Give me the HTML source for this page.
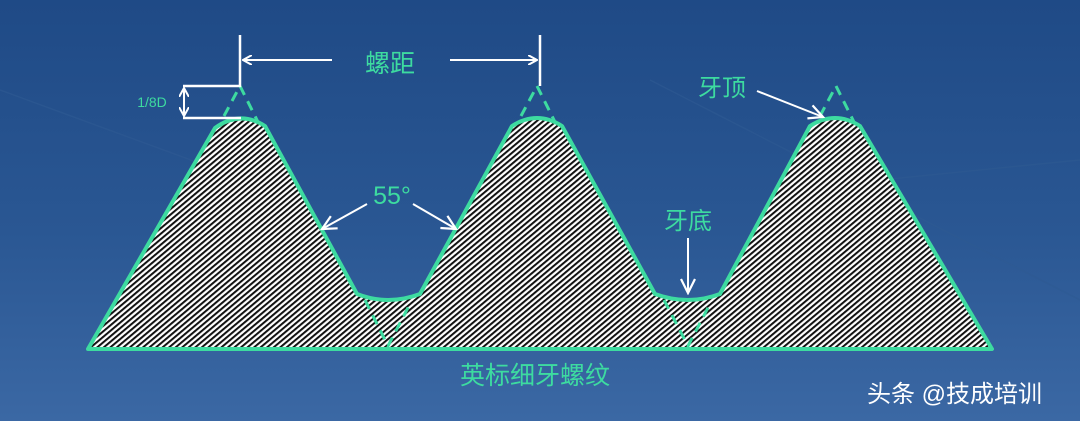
<!DOCTYPE html>
<html><head><meta charset="utf-8"><style>
html,body{margin:0;padding:0;}
body{width:1080px;height:421px;overflow:hidden;background:linear-gradient(180deg,#1f4a86 0%,#2a5793 55%,#3b68a4 100%);}
svg{display:block}
text{font-family:"Liberation Sans","Noto Sans CJK SC",sans-serif;}
</style></head><body>
<svg width="1080" height="421" viewBox="0 0 1080 421" xmlns="http://www.w3.org/2000/svg">
<defs>
<pattern id="h" width="4.2" height="8" patternUnits="userSpaceOnUse" patternTransform="rotate(50)">
<rect width="4.2" height="8" fill="#fff"/>
<rect x="0" y="0" width="2" height="8" fill="#111"/>
</pattern>
<marker id="a" markerWidth="10" markerHeight="10" refX="9" refY="5" orient="auto" markerUnits="userSpaceOnUse">
<path d="M0,0 L9,5 L0,10" fill="none" stroke="#fff" stroke-width="2"/>
</marker>
<marker id="b" markerWidth="18" markerHeight="16" refX="16" refY="8" orient="auto" markerUnits="userSpaceOnUse">
<path d="M2,1 L16,8 L2,15" fill="none" stroke="#fff" stroke-width="2.2"/>
</marker>
</defs>
<g stroke="#2e5a92" stroke-width="1.5" fill="none" opacity="0.6">
<path d="M0,90 L300,200"/><path d="M650,80 L1080,300"/><path d="M880,180 L1080,160"/>
</g>
<path d="M88,349 L215,128 Q240,110 265,126 L357,294 Q388,306 420,294 L512,126 Q537,110 562,126 L655,294 Q688,306 720,294 L810,126 Q835,110 860,126 L992,349 Z" fill="url(#h)" stroke="#3ddba0" stroke-width="4" stroke-linejoin="round"/>
<g stroke="#3ddba0" stroke-width="3" stroke-dasharray="10,7" fill="none">
<path d="M224,116 L240,86 L258,122"/>
<path d="M521,116 L537,86 L555,122"/>
<path d="M820,116 L836,86 L854,122"/>
<path d="M365,300 L388,346 L411,302"/>
<path d="M664,300 L688,346 L711,302"/>
</g>
<g stroke="#fff" stroke-width="2.5" fill="none">
<path d="M240,35 L240,86 L183,86"/>
<path d="M183,118 L241,118"/>
<path d="M540,35 L540,86"/>
</g>
<g stroke="#fff" stroke-width="2" fill="none">
<path d="M332,60 L243,60" marker-end="url(#a)"/>
<path d="M450,60 L537,60" marker-end="url(#a)"/>
<path d="M184,102 L184,88" marker-end="url(#a)"/>
<path d="M184,102 L184,116" marker-end="url(#a)"/>
<path d="M367,204 L322,229" marker-end="url(#b)"/>
<path d="M413,204 L456,229" marker-end="url(#b)"/>
<path d="M757,91 L823,117" marker-end="url(#b)"/>
<path d="M688,238 L688,293" marker-end="url(#b)"/>
</g>
<g fill="#3ddba0">
<text x="390" y="72" font-size="25" text-anchor="middle">螺距</text>
<text x="152" y="107" font-size="14" text-anchor="middle">1/8D</text>
<text x="392" y="204" font-size="25" text-anchor="middle">55°</text>
<text x="722" y="96" font-size="24" text-anchor="middle">牙顶</text>
<text x="688" y="229" font-size="24" text-anchor="middle">牙底</text>
<text x="535" y="384" font-size="25" text-anchor="middle">英标细牙螺纹</text>
</g>
<text x="867" y="402" font-size="24" fill="#fff">头条 @技成培训</text>
</svg>
</body></html>
